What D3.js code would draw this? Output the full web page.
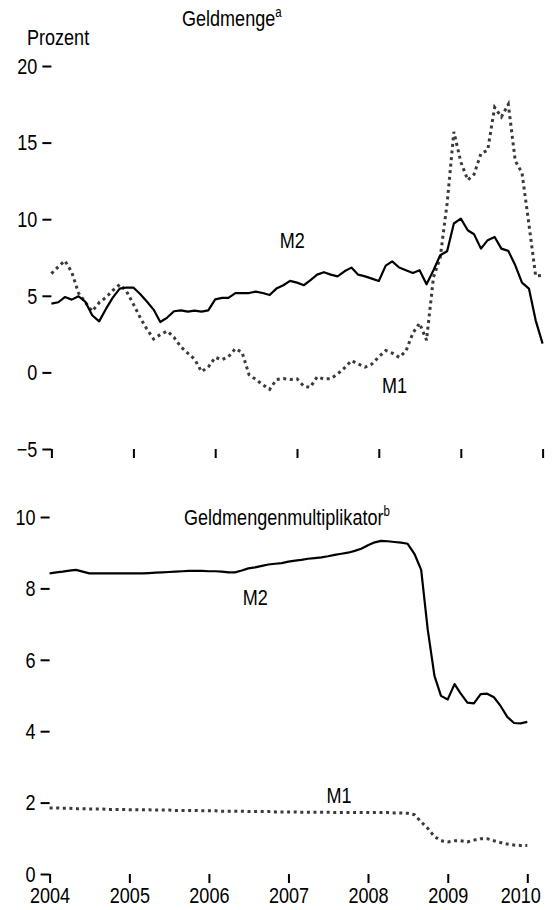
<!doctype html>
<html lang="de">
<head>
<meta charset="utf-8">
<title>Geldmenge und Geldmengenmultiplikator</title>
<script src="https://cdn.jsdelivr.net/npm/d3@7"></script>
<style>
html, body { margin:0; padding:0; background:#fff; }
svg text { font-family: "Liberation Sans", Arial, sans-serif; font-size: 22px; fill: #000; }
.tick line { stroke: #000; stroke-width: 2px; }
.m2 { fill: none; stroke: #000; stroke-width: 2.2px; stroke-linejoin: round; }
.m1 { fill: none; stroke: #3a3a3a; stroke-width: 3px; stroke-dasharray: 3 3.6; }
</style>
</head>
<body>
<svg id="chart" width="556" height="910"></svg>
<script>
// tick labels
const years = [2004, 2005, 2006, 2007, 2008, 2009, 2010];
const pctTicks = [-5, 0, 5, 10, 15, 20];
const multTicks = [0, 2, 4, 6, 8, 10];

// monthly values, Jan 2004 .. Jan 2010
// Geldmenge, Veränderung gegenüber Vorjahr in Prozent
const m2Growth = [4.49, 4.58, 4.92, 4.75, 4.97, 4.60, 3.73, 3.33, 4.16, 4.88,
  5.47, 5.54, 5.54, 5.10, 4.64, 4.10, 3.29, 3.58, 3.99, 4.05,
  3.97, 4.03, 3.97, 4.05, 4.77, 4.86, 4.86, 5.18, 5.18, 5.18,
  5.27, 5.18, 5.05, 5.47, 5.69, 5.97, 5.86, 5.69, 6.01, 6.38,
  6.54, 6.38, 6.27, 6.60, 6.84, 6.38, 6.27, 6.12, 5.97, 6.97,
  7.25, 6.85, 6.67, 6.49, 6.67, 5.75, 6.67, 7.65, 7.91, 9.72,
  10.04, 9.28, 9.02, 8.08, 8.63, 8.84, 8.08, 7.93, 6.99, 5.86,
  5.47, 3.40, 1.88];
const m1Growth = [6.45, 6.90, 7.29, 6.54, 5.18, 4.56, 3.99, 4.55, 4.90, 5.35,
  5.74, 5.30, 4.45, 3.56, 2.85, 2.18, 2.47, 2.70, 2.29, 1.67,
  1.25, 0.86, 0.05, 0.35, 0.98, 0.83, 1.02, 1.55, 1.31, -0.15,
  -0.46, -0.80, -1.11, -0.47, -0.40, -0.47, -0.42, -0.91, -0.97, -0.29,
  -0.43, -0.41, -0.11, 0.29, 0.77, 0.55, 0.34, 0.54, 1.01, 1.43,
  1.26, 0.98, 1.39, 2.56, 3.21, 2.10, 6.21, 7.48, 11.05, 15.70,
  13.74, 12.55, 12.93, 14.29, 14.50, 17.30, 16.68, 17.50, 13.81, 13.03,
  9.67, 6.30, 6.34];

// Geldmengenmultiplikator
const m2Mult = [8.42, 8.45, 8.47, 8.50, 8.52, 8.47, 8.42, 8.42, 8.42, 8.42,
  8.42, 8.42, 8.42, 8.42, 8.42, 8.43, 8.44, 8.45, 8.46, 8.47,
  8.48, 8.49, 8.49, 8.49, 8.48, 8.48, 8.47, 8.45, 8.45, 8.50,
  8.56, 8.59, 8.63, 8.67, 8.69, 8.71, 8.75, 8.78, 8.80, 8.83,
  8.85, 8.87, 8.90, 8.94, 8.97, 9.00, 9.05, 9.11, 9.21, 9.29,
  9.33, 9.32, 9.30, 9.28, 9.25, 8.97, 8.52, 6.85, 5.55, 4.99,
  4.89, 5.32, 5.06, 4.80, 4.78, 5.04, 5.05, 4.95, 4.70, 4.40,
  4.23, 4.22, 4.26];
const m1Mult = [1.85, 1.85, 1.84, 1.84, 1.83, 1.83, 1.82, 1.82, 1.82, 1.81,
  1.81, 1.81, 1.80, 1.80, 1.80, 1.80, 1.79, 1.79, 1.79, 1.78,
  1.78, 1.78, 1.78, 1.77, 1.77, 1.77, 1.76, 1.76, 1.76, 1.76,
  1.75, 1.75, 1.75, 1.75, 1.74, 1.74, 1.74, 1.74, 1.73, 1.73,
  1.73, 1.73, 1.73, 1.72, 1.72, 1.72, 1.72, 1.72, 1.72, 1.72,
  1.72, 1.72, 1.71, 1.71, 1.70, 1.66, 1.46, 1.28, 1.05, 0.93,
  0.90, 0.93, 0.93, 0.90, 0.95, 0.99, 0.99, 0.93, 0.88, 0.84,
  0.81, 0.80, 0.80];

// series labels in data coordinates
const topLabels = [
  {text: "M2", date: new Date(2006, 9, 16), value: 8.1},
  {text: "M1", date: new Date(2008, 0, 15), value: -1.35}
];
const bottomLabels = [
  {text: "M2", date: new Date(2006, 5, 5), value: 7.53},
  {text: "M1", date: new Date(2007, 5, 25), value: 1.99}
];

const months = m2Growth.map((d, i) => new Date(2004, i, 1));
const yearDates = years.map(y => new Date(y, 0, 1));

const svg = d3.select("#chart");

function panel(x, y, yTicks, series, labels, showYears) {
  const g = svg.append("g");
  const x0 = x.range()[0];
  const yMin = y.range()[0];

  g.append("g")
    .attr("transform", "translate(" + x0 + ",0)")
    .call(d3.axisLeft(y).tickValues(yTicks).tickSize(9).tickPadding(5))
    .call(a => a.select(".domain").remove())
    .selectAll("text").attr("dy", "0.33em");

  const xa = g.append("g")
    .attr("transform", "translate(0," + yMin + ")")
    .call(d3.axisBottom(x).tickValues(yearDates).tickSize(9).tickPadding(4)
      .tickFormat(showYears ? d3.timeFormat("%Y") : ""))
    .call(a => a.select(".domain").remove());
  // last year label sits a bit left in the original
  if (showYears) xa.selectAll(".tick:last-of-type text").attr("x", -7);

  series.forEach(s => {
    const line = d3.line()
      .x((d, i) => x(months[i]))
      .y(d => y(d));
    g.append("path").datum(s.values).attr("class", s.cls).attr("d", line);
  });

  g.selectAll(".lbl").data(labels).enter().append("text")
    .attr("class", "lbl")
    .attr("x", d => x(d.date))
    .attr("y", d => y(d.value))
    .text(d => d.text);
  return g;
}

const xTop = d3.scaleTime().domain([yearDates[0], yearDates[6]]).range([51.4, 542.6]);
const yTop = d3.scaleLinear().domain([-5, 20]).range([449, 66]);
panel(xTop, yTop, pctTicks,
  [{values: m1Growth, cls: "m1"}, {values: m2Growth, cls: "m2"}], topLabels, false);

const xBot = d3.scaleTime().domain([yearDates[0], yearDates[6]]).range([49.6, 527.3]);
const yBot = d3.scaleLinear().domain([0, 10]).range([874, 517]);
panel(xBot, yBot, multTicks,
  [{values: m1Mult, cls: "m1"}, {values: m2Mult, cls: "m2"}], bottomLabels, true);

// titles
const t1 = svg.append("text").attr("x", 182).attr("y", 26).text("Geldmenge");
t1.append("tspan").attr("dy", -9).style("font-size", "14px").text("a");
const t2 = svg.append("text").attr("x", 184).attr("y", 525).text("Geldmengenmultiplikator");
t2.append("tspan").attr("dy", -9).style("font-size", "14px").text("b");
svg.append("text").attr("x", 27).attr("y", 45).text("Prozent");

// the original uses a condensed face
svg.selectAll("text").attr("transform", function() {
  const x = +this.getAttribute("x") || 0;
  return "translate(" + x + ",0) scale(0.82,1) translate(" + (-x) + ",0)";
});
</script>
</body>
</html>
